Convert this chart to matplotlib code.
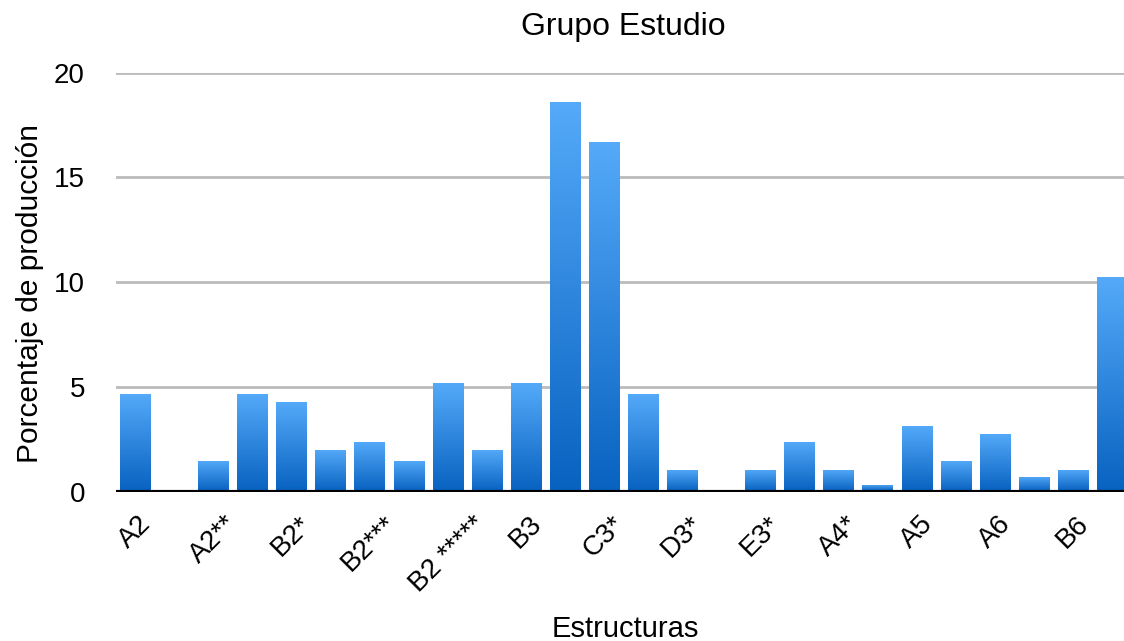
import numpy as np
import matplotlib
matplotlib.use("Agg")
import matplotlib.pyplot as plt
from matplotlib.colors import LinearSegmentedColormap

plt.rcParams['font.family'] = ['Liberation Sans', 'DejaVu Sans']

# Estructuras y porcentaje de produccion (solo se rotula una de cada dos)
estructuras = ["A2", "A2*", "A2**", "B2", "B2*", "B2**", "B2***", "B2****",
               "B2 *****", "B2 ******", "B3", "C3", "C3*", "D3", "D3*", "E3",
               "E3*", "A4", "A4*", "B4", "A5", "B5", "A6", "A6*", "B6", "C6"]
porcentaje = [4.65, 0.0, 1.45, 4.65, 4.26, 1.96, 2.36, 1.45,
              5.18, 1.96, 5.18, 18.58, 16.67, 4.65, 1.05, 0.0,
              1.05, 2.36, 1.05, 0.29, 3.11, 1.45, 2.73, 0.67, 1.05, 10.24]
yticks = [0, 5, 10, 15, 20]

W, H = 1124, 641
fig = plt.figure(figsize=(W / 100, H / 100), dpi=100)
ax = fig.add_axes([115.5 / W, 1 - 491.5 / H, 1016 / W, (491.5 - 72.7) / H])

x = np.arange(len(estructuras))
bars = ax.bar(x, porcentaje, width=0.77, color="none", zorder=2)

# degradado vertical dentro de cada barra
cmap = LinearSegmentedColormap.from_list("azul", ["#0862C0", "#55AAF9"])
grad = np.linspace(0, 1, 256).reshape(-1, 1)
for b in bars:
    h = b.get_height()
    if h <= 0:
        continue
    x0 = b.get_x()
    im = ax.imshow(grad, cmap=cmap, origin="lower", aspect="auto",
                   extent=[x0, x0 + b.get_width(), 0, h], zorder=2)
    im.set_clip_path(b)

ax.set_xlim(-0.5, len(estructuras) - 0.5)
ax.set_ylim(0, 20)
ax.set_yticks(yticks)
ax.yaxis.grid(True, color="#BBBBBB", linewidth=2)
ax.set_axisbelow(True)
ax.axhline(0, color="black", linewidth=3, zorder=3)
for s in ax.spines.values():
    s.set_visible(False)

ax.set_xticks(x[::2])
ax.set_xticklabels(estructuras[::2], rotation=45, ha="center", fontsize=20)
ax.tick_params(axis="x", length=0, pad=14)
ax.tick_params(axis="y", length=0, pad=22, labelsize=20)

fig.text(623.5 / W, 1 - 35 / H, "Grupo Estudio", fontsize=23,
         ha="center", va="baseline")
fig.text(625 / W, 1 - 637 / H, "Estructuras", fontsize=21,
         ha="center", va="baseline")
fig.text(30 / W, 1 - 293 / H, "Porcentaje de producción", fontsize=21.5,
         rotation=90, ha="center", va="center")

fig.savefig("out.png", dpi=100)
